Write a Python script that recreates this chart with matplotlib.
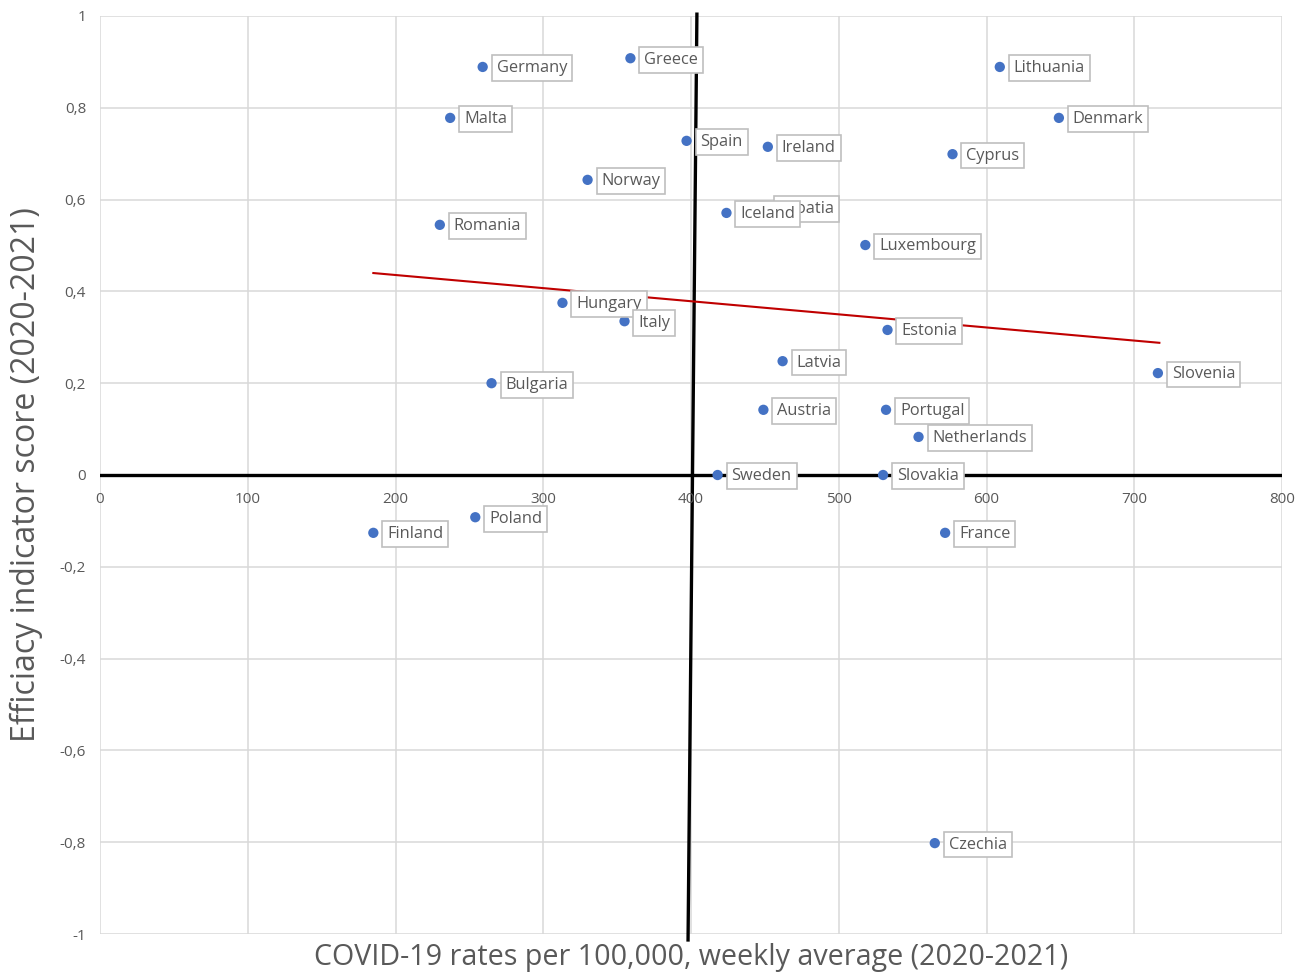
import numpy as np
import matplotlib
matplotlib.use("Agg")
import matplotlib.pyplot as plt

plt.rcParams['font.family'] = ['Open Sans', 'DejaVu Sans']

countries = ["Germany", "Greece", "Lithuania", "Malta", "Denmark", "Spain", "Ireland",
             "Cyprus", "Norway", "Croatia", "Iceland", "Romania", "Luxembourg", "Hungary",
             "Italy", "Estonia", "Latvia", "Slovenia", "Bulgaria", "Austria", "Portugal",
             "Netherlands", "Sweden", "Slovakia", "Poland", "Finland", "France", "Czechia"]
covid_rates = [259, 359, 609, 237, 649, 397, 452,
               577, 330, 450, 424, 230, 518, 313,
               355, 533, 462, 716, 265, 449, 532,
               554, 418, 530, 254, 185, 572, 565]
efficacy = [0.889, 0.908, 0.889, 0.778, 0.778, 0.728, 0.715,
            0.699, 0.643, 0.582, 0.571, 0.545, 0.501, 0.375,
            0.335, 0.316, 0.248, 0.222, 0.200, 0.142, 0.142,
            0.083, 0.0, 0.0, -0.092, -0.126, -0.126, -0.802]

x_ticks = [0, 100, 200, 300, 400, 500, 600, 700, 800]
y_ticks = [1, 0.8, 0.6, 0.4, 0.2, 0, -0.2, -0.4, -0.6, -0.8, -1]
y_tick_labels = ["1", "0,8", "0,6", "0,4", "0,2", "0", "-0,2", "-0,4", "-0,6", "-0,8", "-1"]

# hand-drawn divider line (slightly tilted) and trendline end points
divider_x = [404, 398]
divider_y = [1.004, -1.013]
trend_x = [185, 717]
trend_y = [0.440, 0.288]

W, H = 1309, 974
fig = plt.figure(figsize=(W / 100, H / 100), dpi=100)
ax = fig.add_axes([100 / W, 1 - 934 / H, (1282 - 100) / W, (934 - 16) / H])
ax.set_xlim(0, 800)
ax.set_ylim(-1, 1)
for s in ax.spines.values():
    s.set_visible(False)
ax.set_xticks(x_ticks)
ax.set_yticks(y_ticks)
ax.set_yticklabels(y_tick_labels)
ax.tick_params(axis='both', length=0, colors='#595959', labelsize=11)
ax.tick_params(axis='x', labelbottom=False)
ax.tick_params(axis='y', pad=10)
ax.grid(True, color='#d9d9d9', lw=1.1)
ax.set_axisbelow(True)

# x tick labels at the y=0 line
for xt in x_ticks:
    ax.annotate(str(xt), (xt, 0), xytext=(0, -12), textcoords='offset points',
                ha='center', va='top', fontsize=11, color='#595959')

ax.axhline(0, color='black', lw=2.4, zorder=2)
ax.plot(divider_x, divider_y, color='black', lw=2.4, clip_on=False, zorder=2)
ax.plot(trend_x, trend_y, color='#C00000', lw=1.5, zorder=3)

ax.scatter(covid_rates, efficacy, s=55, color='#4472C4', zorder=4, edgecolors='none')

for i, (c, xv, yv) in enumerate(zip(countries, covid_rates, efficacy)):
    ax.annotate(c, (xv, yv), xytext=(10, -1), textcoords='offset points',
                ha='left', va='center', fontsize=11.8, color='#595959', zorder=5 + i,
                bbox=dict(boxstyle='square,pad=0.3', fc='white', ec='#bfbfbf', lw=1.2))

ax.set_ylabel("Efficiacy indicator score (2020-2021)", fontsize=23, color='#595959', labelpad=12)
fig.text(691 / W, 1 - 958 / H, "COVID-19 rates per 100,000, weekly average (2020-2021)",
         ha='center', va='center', fontsize=20.6, color='#595959')

fig.savefig("out.png", dpi=100)
